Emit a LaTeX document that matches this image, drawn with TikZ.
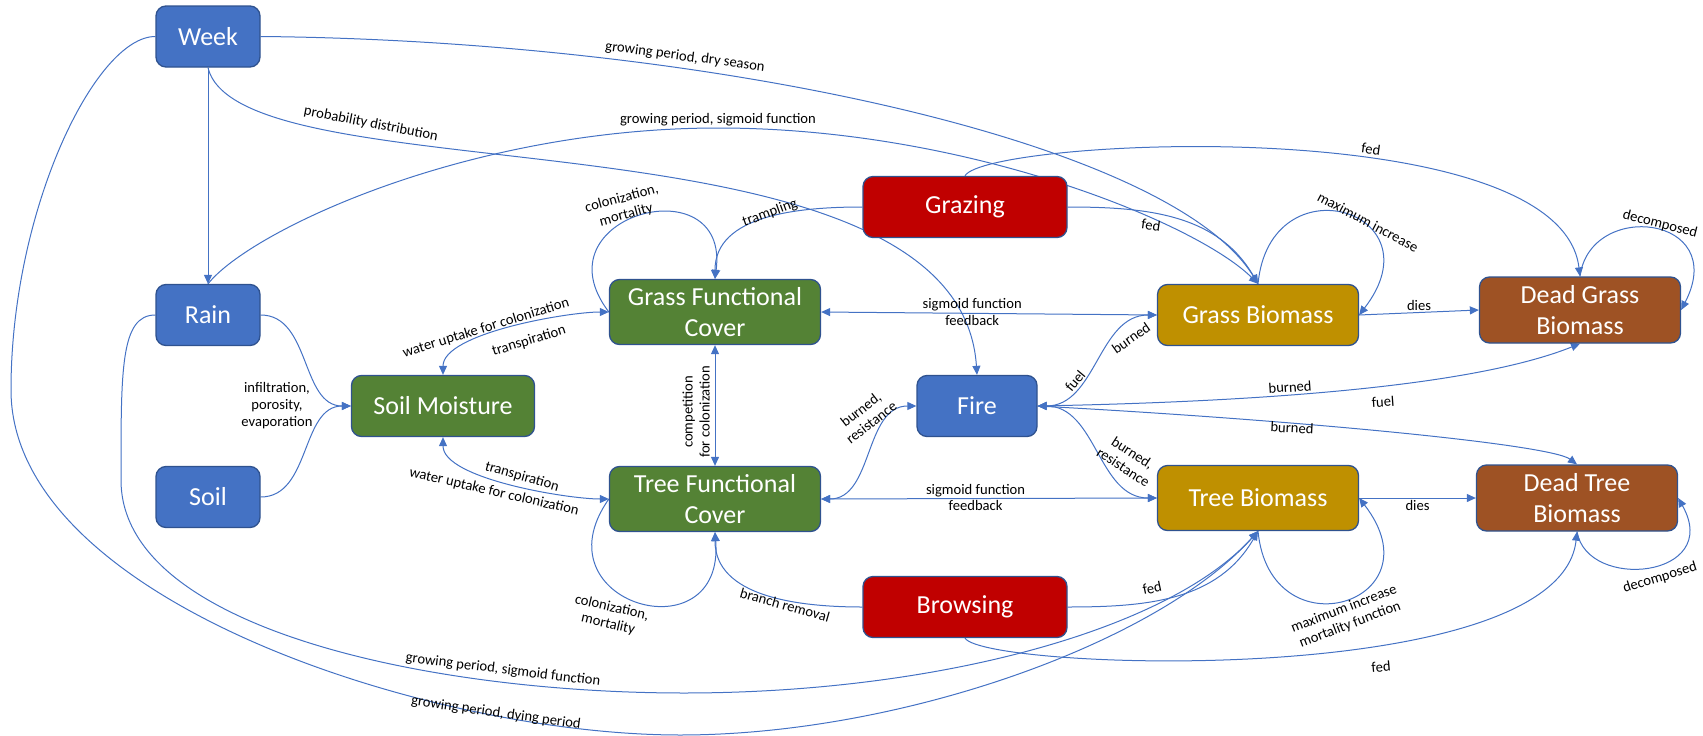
\documentclass[tikz,border=0pt]{standalone}
\usepackage{fontspec}
\setmainfont{Carlito}
\usepackage{xcolor}
\definecolor{FlowBlue} {HTML}{4472C4}
\definecolor{FlowRim}  {HTML}{2F528F}
\definecolor{FlowGreen}{HTML}{548235}
\definecolor{FlowRed}  {HTML}{C00000}
\definecolor{FlowGold} {HTML}{BF9000}
\definecolor{FlowBrown}{HTML}{9E5224}
\usetikzlibrary{arrows.meta,positioning,backgrounds}
\tikzset{
  poolnode/.style={rectangle,rounded corners=10pt,draw=FlowRim,line width=1.3pt,
    text=white,font=\fontsize{26}{31}\selectfont,align=center,
    minimum height=61pt,inner sep=3pt},
  drivernode/.style={poolnode,fill=FlowBlue,minimum width=104pt},
  covernode/.style={poolnode,fill=FlowGreen,minimum width=211pt},
  herbivnode/.style={poolnode,fill=FlowRed,minimum width=204pt},
  livenode/.style={poolnode,fill=FlowGold,minimum width=201pt},
  deadnode/.style={poolnode,fill=FlowBrown,minimum width=201pt,minimum height=66pt},
  flowedge/.style={-{Triangle[length=9pt,width=8pt]},FlowBlue,line width=1pt},
  bothedge/.style={{Triangle[length=9pt,width=8pt]}-{Triangle[length=9pt,width=8pt]},
    FlowBlue,line width=1pt},
  flowlabel/.style={font=\fontsize{14.6}{17}\selectfont,text=black,
    align=center,inner sep=1.5pt},
}
\begin{document}
\begin{tikzpicture}[x=1pt,y=1pt]
  \useasboundingbox (0,0) rectangle (1703,-736);
  % drivers
  \node[drivernode](week)at(208,-36.5){Week};
  \node[drivernode](rain)at(208,-315){Rain};
  \node[drivernode](soil)at(208,-497){Soil};
  \node[drivernode,minimum width=120pt](fire)at(977,-406){Fire};
  % covers
  \node[covernode,minimum width=183pt](moist)at(443,-406){Soil Moisture};
  \node[covernode,minimum height=65pt](gcover)at(715,-312){Grass Functional\\Cover};
  \node[covernode,minimum height=65pt](tcover)at(715,-499){Tree Functional\\Cover};
  % herbivores
  \node[herbivnode](graze)at(965,-207){Grazing};
  \node[herbivnode](browse)at(965,-607){Browsing};
  % biomass
  \node[livenode](gbio)at(1258,-315){Grass Biomass};
  \node[livenode,minimum height=65pt](tbio)at(1258,-498){Tree Biomass};
  \node[deadnode](gdead)at(1580,-310){Dead Grass\\Biomass};
  \node[deadnode](tdead)at(1577,-498){Dead Tree\\Biomass};
  % via points of the long curves
  \coordinate(rainarc)at(718,-128);
  \coordinate(rainbend)at(121,-480);
  \coordinate(raindip)at(684,-693);
  \coordinate(weekbend)at(11,-390);
  \coordinate(weekdip)at(680,-735);

  \begin{scope}[on background layer]
  % week and rain
  \draw[flowedge](week.south)--(rain.north);
  \draw[flowedge](week.south)..controls +(32,-133) and +(-18,276)..(fire.north);
  \node[flowlabel,rotate=-11](probtxt)at(371,-124){probability distribution};
  \draw[flowedge](week.east)..controls +(440,-4) and +(-88,144)..(gbio.north);
  \node[flowlabel,rotate=-7.5](drytxt)at(685,-57){growing period, dry season};
  \draw[flowedge](rain.north)..controls +(42,53) and +(-250,0)..(rainarc)
    ..controls +(250,0) and +(-60,60)..(gbio.north);
  \node[flowlabel,anchor=south](sigtoptxt)at(718,-128){growing period, sigmoid function};
  \draw[flowedge](week.west)..controls +(-60,0) and +(0,180)..(weekbend)
    ..controls +(0,-210) and +(-250,0)..(weekdip)
    ..controls +(220,0) and +(-100,-112)..(tbio.south);
  \node[flowlabel,rotate=-8](dyingtxt)at(496,-713){growing period, dying period};
  \draw[flowedge](rain.west)..controls +(-35,0) and +(0,110)..(rainbend)
    ..controls +(0,-150) and +(-250,0)..(raindip)
    ..controls +(250,0) and +(-90,-100)..(tbio.south);
  \node[flowlabel,rotate=-7](sigbottxt)at(503,-670){growing period, sigmoid function};
  \draw[flowedge](rain.east)to[out=0,in=180](moist.west);
  \draw[flowedge](soil.east)to[out=0,in=180](moist.west);
  \node[flowlabel](infiltxt)at(277,-406){infiltration,\\porosity,\\evaporation};

  % soil moisture and covers
  \draw[bothedge](moist.north)to[out=90,in=180,looseness=0.6](gcover.west);
  \node[flowlabel,rotate=17](gwatertxt)at(486,-328){water uptake for colonization};
  \node[flowlabel,rotate=17](gtranstxt)at(529,-341){transpiration};
  \draw[bothedge](moist.south)to[out=-90,in=180,looseness=0.6](tcover.west);
  \node[flowlabel,rotate=-16](ttranstxt)at(522,-477){transpiration};
  \node[flowlabel,rotate=-13](twatertxt)at(494,-492){water uptake for colonization};
  \draw[flowedge](gcover.west)..controls +(-74,97) and +(15,115)..(gcover.north);
  \node[flowlabel,rotate=15](gcoltxt)at(624,-207){colonization,\\mortality};
  \draw[flowedge](tcover.west)..controls +(-74,-105) and +(10,-125)..(tcover.south);
  \node[flowlabel,rotate=-13](tcoltxt)at(610,-616){colonization,\\mortality};
  \draw[bothedge](gcover.south)--(tcover.north);
  \node[flowlabel,rotate=90](competetxt)at(696,-412){competition\\for colonization};
  \draw[bothedge](gcover.east)--(gbio.west)
    node[flowlabel,pos=0.45,above]{sigmoid function}
    node[flowlabel,pos=0.45,below]{feedback};
  \draw[bothedge](tcover.east)--(tbio.west)
    node[flowlabel,pos=0.46,above]{sigmoid function}
    node[flowlabel,pos=0.46,below]{feedback};

  % herbivores
  \draw[flowedge](graze.west)to[out=180,in=90](gcover.north);
  \node[flowlabel,rotate=20](trampletxt)at(770,-213){trampling};
  \draw[flowedge](graze.east)to[out=0,in=120](gbio.north);
  \node[flowlabel,rotate=-8](gfedtxt)at(1151,-225){fed};
  \draw[flowedge](graze.north)..controls +(20,37) and +(-20,167)..(gdead.north);
  \node[flowlabel,rotate=-8](gdfedtxt)at(1371,-149){fed};
  \draw[flowedge](browse.west)to[out=180,in=-90](tcover.south);
  \node[flowlabel,rotate=-16](branchtxt)at(785,-605){branch removal};
  \draw[flowedge](browse.east)to[out=0,in=-120](tbio.south);
  \node[flowlabel,rotate=12](tfedtxt)at(1152,-588){fed};
  \draw[flowedge](browse.south)..controls +(20,-32) and +(-17,-159)..(tdead.south);
  \node[flowlabel,rotate=5](tdfedtxt)at(1381,-667){fed};

  % fire
  \draw[bothedge](tcover.east)to[out=0,in=180](fire.west);
  \node[flowlabel,rotate=38](tcburntxt)at(866,-416){burned,\\resistance};
  \draw[bothedge](fire.east)to[out=0,in=180](tbio.west);
  \node[flowlabel,rotate=-33](tbburntxt)at(1128,-460){burned,\\resistance};
  \draw[bothedge](fire.east)to[out=0,in=180](gbio.west);
  \node[flowlabel,rotate=50](gbfueltxt)at(1075,-381){fuel};
  \node[flowlabel,rotate=35](gbburntxt)at(1131,-338){burned};
  \draw[bothedge](fire.east)..controls +(250,5) and +(-100,-40)..(gdead.south);
  \node[flowlabel,rotate=4](gdburntxt)at(1290,-387){burned};
  \node[flowlabel,rotate=4](gdfueltxt)at(1383,-402){fuel};
  \draw[flowedge](fire.east)..controls +(261,-14) and +(-27,20)..(tdead.north);
  \node[flowlabel,rotate=-3](tdburntxt)at(1292,-428){burned};

  % biomass
  \draw[flowedge](gbio.north)..controls +(12,124) and +(81,105)..(gbio.east);
  \node[flowlabel,rotate=-28](gmaxtxt)at(1368,-222){maximum increase};
  \draw[flowedge](tbio.south)..controls +(12,-124) and +(81,-105)..(tbio.east);
  \node[flowlabel,rotate=21](tmaxtxt)at(1347,-617){maximum increase\\mortality function};
  \draw[flowedge](gbio.east)--(gdead.west)node[flowlabel,midway,above]{dies};
  \draw[flowedge](tbio.east)--(tdead.west)node[flowlabel,midway,below]{dies};
  \draw[flowedge](gdead.north)..controls +(10,77) and +(49,95)..(gdead.east);
  \node[flowlabel,rotate=-14](gdecotxt)at(1660,-224){decomposed};
  \draw[flowedge](tdead.south)..controls +(10,-60) and +(45,-80)..(tdead.east);
  \node[flowlabel,rotate=17](tdecotxt)at(1660,-578){decomposed};
  \end{scope}
\end{tikzpicture}
\end{document}
